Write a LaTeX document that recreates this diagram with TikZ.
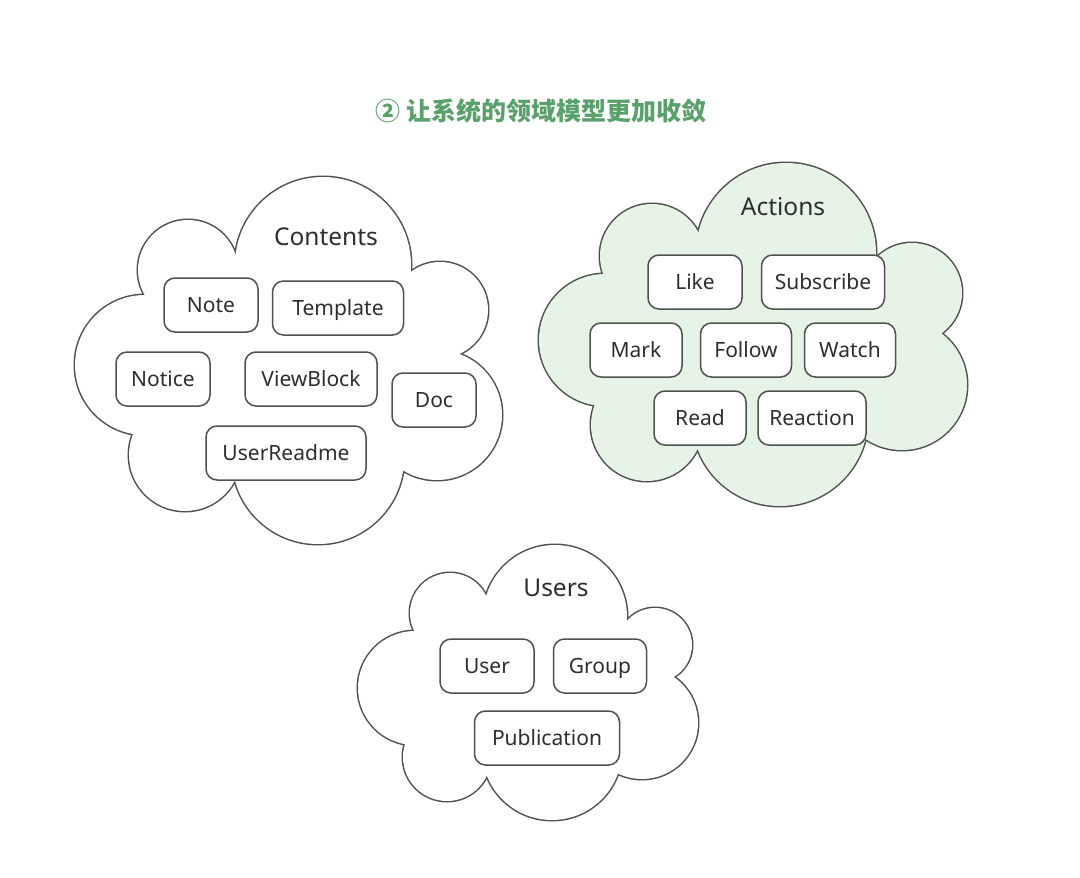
\documentclass[tikz,border=0pt]{standalone}
\usepackage{fontspec}
\setmainfont{Noto Sans}
\newfontfamily\cjk{Noto Sans CJK SC}
\definecolor{titlegreen}{HTML}{5AA06A}
\definecolor{actionbg}{HTML}{E8F3E8}
\definecolor{edgegray}{HTML}{505050}
\definecolor{inkgray}{HTML}{2E2E2E}
\tikzset{
  item/.style={draw=edgegray, line width=1.5pt, rounded corners=11pt, fill=white,
    minimum height=54pt, inner sep=0pt, text height=15pt, text depth=0pt,
    text=inkgray, font=\fontsize{21}{25}\selectfont},
  cloudname/.style={text=inkgray, font=\fontsize{24.5}{29}\selectfont},
}
% cloud = union of circles: thick outline first, then the fill hides the inner half
\newcommand{\puff}[2]{%
  \foreach \cx/\cy/\rad in {#1}
    \draw[edgegray, line width=3pt] (\cx,\cy) circle [radius=\rad pt];
  \foreach \cx/\cy/\rad in {#1}
    \fill[#2] (\cx,\cy) circle [radius=\rad pt];
}
\begin{document}
\begin{tikzpicture}[x=1pt, y=-1pt]
\useasboundingbox[fill=white] (0,0) rectangle (1080,878);

\node[text=titlegreen, font=\cjk\bfseries\fontsize{25}{30}\selectfont] (title) at (541,111) {② 让系统的领域模型更加收敛};

% Contents
\puff{323/265/88, 188/270/50, 145/365/70, 185/455/56, 318/458/86, 437/415/65, 440/310/48}{white}
\fill[white] (323,265) -- (188,270) -- (145,365) -- (185,455) -- (318,458) -- (437,415) -- (440,310) -- cycle;
\node[cloudname] (contents) at (326,237) {Contents};
\node[item, minimum width=94pt] (note) at (211,305) {Note};
\node[item, minimum width=131pt] (template) at (338,308) {Template};
\node[item, minimum width=94pt] (notice) at (163,379) {Notice};
\node[item, minimum width=132pt] (viewblock) at (311,379) {ViewBlock};
\node[item, minimum width=84pt] (doc) at (434,400) {Doc};
\node[item, minimum width=160pt] (userreadme) at (286,453) {UserReadme};

% Actions
\puff{786/253/90, 652/256/52, 605/340/66, 647/425/56, 780/418/88, 902/385/65, 912/293/50}{actionbg}
\fill[actionbg] (786,253) -- (652,256) -- (605,340) -- (647,425) -- (780,418) -- (902,385) -- (912,293) -- cycle;
\node[cloudname] (actions) at (783,207) {Actions};
\node[item, minimum width=94pt] (like) at (695,282) {Like};
\node[item, minimum width=123pt] (subscribe) at (823,282) {Subscribe};
\node[item, minimum width=92pt] (mark) at (636,350) {Mark};
\node[item, minimum width=91pt] (follow) at (746,350) {Follow};
\node[item, minimum width=91pt] (watch) at (850,350) {Watch};
\node[item, minimum width=92pt] (read) at (700,418) {Read};
\node[item, minimum width=108pt] (reaction) at (812,418) {Reaction};

% Users
\puff{555/617/72, 450/613/40, 415/688/57, 447/757/44, 552/750/70, 642/723/56, 655/645/37}{white}
\fill[white] (555,617) -- (450,613) -- (415,688) -- (447,757) -- (552,750) -- (642,723) -- (655,645) -- cycle;
\node[cloudname] (users) at (556,588) {Users};
\node[item, minimum width=94pt] (user) at (487,666) {User};
\node[item, minimum width=93pt] (group) at (600,666) {Group};
\node[item, minimum width=145pt] (publication) at (547,738) {Publication};
\end{tikzpicture}
\end{document}
